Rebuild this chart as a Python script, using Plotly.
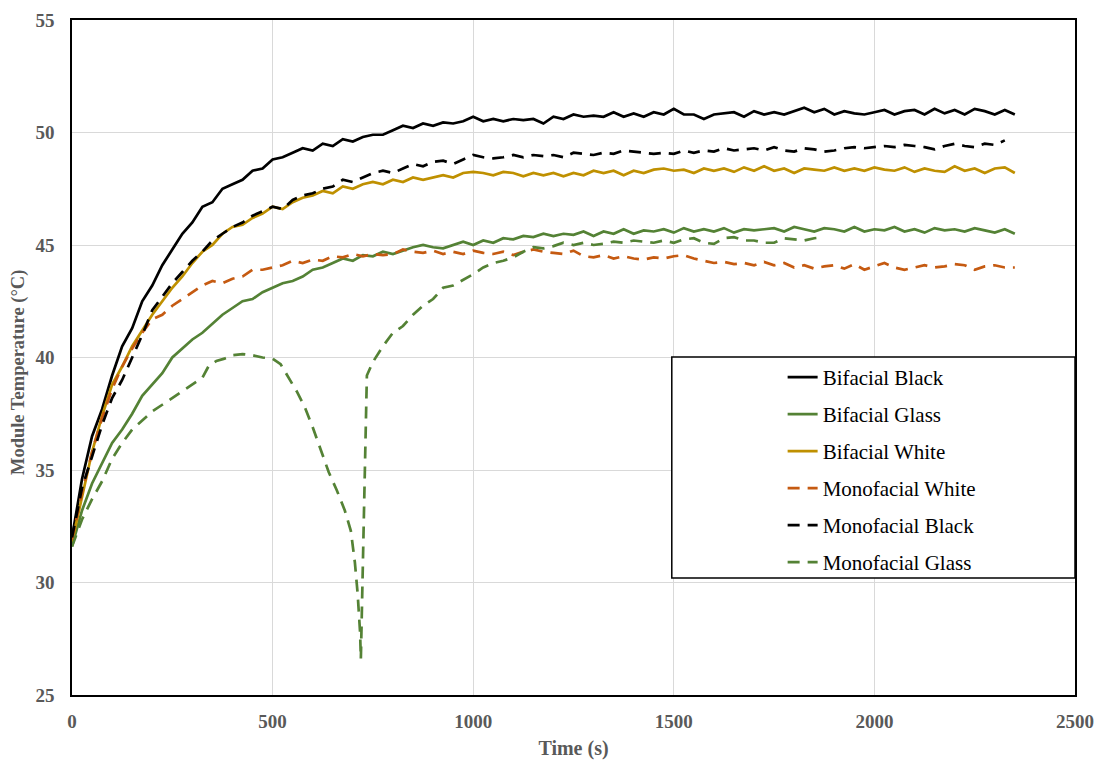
import plotly.graph_objects as go

# ---------------- data ----------------
time_s = list(range(0, 2351, 25))

bifacial_black = [
    32.0, 34.6, 36.5, 37.7, 39.2, 40.5, 41.3, 42.5, 43.2, 44.1,
    44.8, 45.5, 46.0, 46.7, 46.9, 47.5, 47.7, 47.9, 48.3, 48.4,
    48.8, 48.9, 49.1, 49.3, 49.2, 49.5, 49.4, 49.7, 49.6, 49.8,
    49.9, 49.9, 50.1, 50.3, 50.2, 50.4, 50.3, 50.45, 50.4, 50.5,
    50.7, 50.5, 50.6, 50.5, 50.6, 50.55, 50.6, 50.4, 50.7, 50.6,
    50.8, 50.7, 50.75, 50.7, 50.9, 50.7, 50.85, 50.7, 50.9, 50.8,
    51.05, 50.8, 50.8, 50.6, 50.8, 50.85, 50.9, 50.7, 50.95, 50.8,
    50.9, 50.8, 50.95, 51.1, 50.9, 51.05, 50.8, 50.95, 50.85, 50.8,
    50.9, 51.0, 50.8, 50.95, 51.0, 50.8, 51.05, 50.85, 51.0, 50.8,
    51.05, 50.95, 50.8, 51.0, 50.8,
]

bifacial_white = [
    31.8, 33.8, 35.8, 37.4, 38.8, 39.6, 40.5, 41.2, 41.9, 42.5,
    43.1, 43.6, 44.2, 44.7, 45.0, 45.5, 45.8, 45.9, 46.2, 46.4,
    46.7, 46.6, 46.9, 47.1, 47.2, 47.4, 47.3, 47.6, 47.5, 47.7,
    47.8, 47.7, 47.9, 47.8, 48.0, 47.9, 48.0, 48.1, 48.0, 48.2,
    48.25, 48.2, 48.1, 48.25, 48.2, 48.05, 48.2, 48.1, 48.2, 48.05,
    48.2, 48.1, 48.3, 48.2, 48.3, 48.1, 48.3, 48.2, 48.35, 48.4,
    48.3, 48.35, 48.2, 48.4, 48.3, 48.4, 48.25, 48.45, 48.3, 48.5,
    48.3, 48.4, 48.2, 48.4, 48.35, 48.3, 48.45, 48.3, 48.4, 48.3,
    48.45, 48.35, 48.3, 48.45, 48.25, 48.4, 48.3, 48.25, 48.5, 48.3,
    48.4, 48.2, 48.4, 48.45, 48.2,
]

monofacial_black = [
    32.0, 34.2, 35.6, 37.0, 38.2, 39.0, 40.0, 41.0, 42.1, 42.7,
    43.3, 43.8, 44.3, 44.7, 45.2, 45.5, 45.8, 46.0, 46.3, 46.5,
    46.7, 46.6, 47.0, 47.2, 47.3, 47.5, 47.6, 47.9, 47.8, 48.0,
    48.2, 48.3, 48.2, 48.4, 48.6, 48.5, 48.7, 48.75, 48.6, 48.8,
    49.0, 48.9, 48.85, 48.9, 49.0, 48.9, 49.0, 48.95, 49.0, 48.9,
    49.1, 49.05, 49.0, 49.1, 49.05, 49.2, 49.15, 49.1, 49.05, 49.1,
    49.05, 49.2, 49.1, 49.2, 49.15, 49.3, 49.2, 49.25, 49.3, 49.2,
    49.35, 49.2, 49.15, 49.3, 49.25, 49.15, 49.2, 49.3, 49.35, 49.3,
    49.35, 49.4, 49.35, 49.45, 49.4, 49.35, 49.25, 49.4, 49.5, 49.4,
    49.35, 49.5, 49.45, 49.65, None,
]

monofacial_white = [
    31.9, 34.0, 35.8, 37.3, 38.6, 39.6, 40.4, 41.1, 41.7, 41.9,
    42.3, 42.6, 42.9, 43.2, 43.4, 43.3, 43.5, 43.6, 43.9, 43.9,
    44.0, 44.1, 44.3, 44.2, 44.35, 44.3, 44.5, 44.45, 44.6, 44.5,
    44.6, 44.55, 44.6, 44.8, 44.7, 44.65, 44.75, 44.6, 44.7, 44.6,
    44.75, 44.65, 44.6, 44.7, 44.55, 44.7, 44.8, 44.7, 44.65, 44.6,
    44.75, 44.5, 44.45, 44.55, 44.4, 44.5, 44.4, 44.35, 44.45, 44.4,
    44.5, 44.55, 44.4, 44.3, 44.2, 44.25, 44.15, 44.2, 44.1, 44.25,
    44.1, 44.2, 44.0, 44.1, 43.95, 44.05, 44.1, 43.95, 44.15, 43.9,
    44.05, 44.2, 44.0, 43.9, 44.0, 44.1, 44.0, 44.05, 44.15, 44.1,
    43.9, 44.05, 44.1, 44.0, 44.0,
]

bifacial_glass = [
    31.6, 33.2, 34.4, 35.3, 36.2, 36.8, 37.5, 38.3, 38.8, 39.3,
    40.0, 40.4, 40.8, 41.1, 41.5, 41.9, 42.2, 42.5, 42.6, 42.9,
    43.1, 43.3, 43.4, 43.6, 43.9, 44.0, 44.2, 44.4, 44.3, 44.55,
    44.5, 44.7, 44.6, 44.75, 44.9, 45.0, 44.9, 44.85, 45.0, 45.15,
    45.0, 45.2, 45.1, 45.3, 45.25, 45.4, 45.35, 45.5, 45.4, 45.5,
    45.45, 45.6, 45.4, 45.6, 45.5, 45.7, 45.5, 45.65, 45.6, 45.7,
    45.55, 45.75, 45.6, 45.7, 45.6, 45.75, 45.55, 45.7, 45.65, 45.7,
    45.75, 45.6, 45.8, 45.7, 45.6, 45.75, 45.7, 45.6, 45.8, 45.6,
    45.7, 45.65, 45.8, 45.6, 45.7, 45.55, 45.75, 45.65, 45.7, 45.6,
    45.75, 45.65, 45.55, 45.7, 45.5,
]

mono_glass_time = [
    0, 25, 50, 75, 100, 125, 150, 175, 200, 225, 250, 275, 300, 325, 340,
    360, 380, 400, 425, 450, 475, 500, 520, 540, 560, 580, 600, 620, 640,
    660, 680, 695, 705, 712, 718, 720, 722, 725, 728, 731, 735, 750, 775,
    800, 825, 850, 875, 900, 925, 950, 975, 1000, 1025, 1050, 1075, 1100,
    1125, 1150, 1175, 1200, 1225, 1250, 1275, 1300, 1325, 1350, 1375, 1400,
    1425, 1450, 1475, 1500, 1525, 1550, 1575, 1600, 1625, 1650, 1675, 1700,
    1725, 1750, 1775, 1800, 1825, 1850, 1875,
]
monofacial_glass = [
    31.6, 32.8, 33.7, 34.5, 35.5, 36.2, 36.8, 37.2, 37.6, 37.9, 38.2, 38.5,
    38.8, 39.1, 39.6, 39.85, 39.95, 40.1, 40.15, 40.1, 40.0, 39.95, 39.7,
    39.1, 38.5, 37.8, 36.9, 35.9, 34.9, 34.1, 33.2, 32.3, 30.9, 29.5, 27.8,
    26.6, 28.3, 31.0, 33.8, 36.8, 39.2, 39.8, 40.5, 41.1, 41.4, 41.9, 42.3,
    42.6, 43.1, 43.2, 43.45, 43.7, 44.0, 44.2, 44.3, 44.45, 44.7, 44.9,
    44.85, 44.95, 45.1, 45.0, 45.1, 45.0, 45.05, 45.15, 45.1, 45.2, 45.15,
    45.1, 45.2, 45.1, 45.25, 45.3, 45.1, 45.05, 45.3, 45.35, 45.2, 45.2,
    45.1, 45.1, 45.3, 45.25, 45.2, 45.3, 45.35,
]

for s in (bifacial_black, bifacial_white, monofacial_black, monofacial_white, bifacial_glass):
    assert len(s) == len(time_s), len(s)
assert len(mono_glass_time) == len(monofacial_glass)

x_ticks = [0, 500, 1000, 1500, 2000, 2500]
y_ticks = [25, 30, 35, 40, 45, 50, 55]

BLACK = "#000000"
GREEN = "#548235"
GOLD = "#BF9000"
ORANGE = "#C55A11"
DASH = "12px,8px"

series = [
    ("Bifacial Black", time_s, bifacial_black, BLACK, "solid"),
    ("Bifacial Glass", time_s, bifacial_glass, GREEN, "solid"),
    ("Bifacial White", time_s, bifacial_white, GOLD, "solid"),
    ("Monofacial White", time_s, monofacial_white, ORANGE, DASH),
    ("Monofacial Black", time_s, monofacial_black, BLACK, DASH),
    ("Monofacial Glass", mono_glass_time, monofacial_glass, GREEN, DASH),
]

SERIF = "Liberation Serif"
GRAY = "#595959"

fig = go.Figure()
for i, (name, xs, ys, color, dash) in enumerate(series):
    fig.add_trace(go.Scatter(
        x=xs, y=ys, name=name, mode="lines",
        line=dict(color=color, width=2.7, dash=dash),
        legendgroup=f"g{i}", connectgaps=False,
    ))

fig.update_layout(
    width=1102, height=760,
    margin=dict(l=72, r=27, t=20, b=65, autoexpand=False),
    paper_bgcolor="white", plot_bgcolor="white",
    font=dict(family=SERIF, color=GRAY),
    showlegend=True,
    legend=dict(
        x=0.7085, y=0.5007, xanchor="left", yanchor="top",
        bgcolor="rgba(0,0,0,0)", borderwidth=0,
        font=dict(family=SERIF, size=21, color="#000000"),
        tracegroupgap=6.7,
    ),
    shapes=[dict(
        type="rect", xref="paper", yref="paper",
        x0=0.598, x1=1.0, y0=0.1733, y1=0.5007,
        fillcolor="white", line=dict(color="#000000", width=1.5),
        layer="above",
    )],
    annotations=[dict(
        text="<b>Module Temperature (°C)</b>", textangle=-90,
        xref="paper", yref="paper", x=-0.0538, y=0.477,
        xanchor="center", yanchor="middle", showarrow=False,
        font=dict(family=SERIF, size=18.5, color=GRAY),
    )],
)

fig.update_xaxes(
    range=[0, 2500], tickvals=x_ticks, ticktext=[str(v) for v in x_ticks],
    showgrid=True, gridcolor="#d9d9d9", gridwidth=1.2, zeroline=False,
    showline=True, linecolor="#000000", linewidth=1.5, mirror=True,
    ticks="", ticklabelstandoff=8, automargin=False,
    tickfont=dict(family=SERIF, size=19, color=GRAY, weight="bold"),
    title=dict(text="<b>Time (s)</b>", standoff=10,
               font=dict(family=SERIF, size=20, color=GRAY)),
)
fig.update_yaxes(
    range=[25, 55], tickvals=y_ticks, ticktext=[str(v) for v in y_ticks],
    showgrid=True, gridcolor="#d9d9d9", gridwidth=1.2, zeroline=False,
    showline=True, linecolor="#000000", linewidth=1.5, mirror=True,
    ticks="", ticklabelstandoff=12, automargin=False,
    tickfont=dict(family=SERIF, size=19, color=GRAY, weight="bold"),
)

fig.write_html("out.html")
